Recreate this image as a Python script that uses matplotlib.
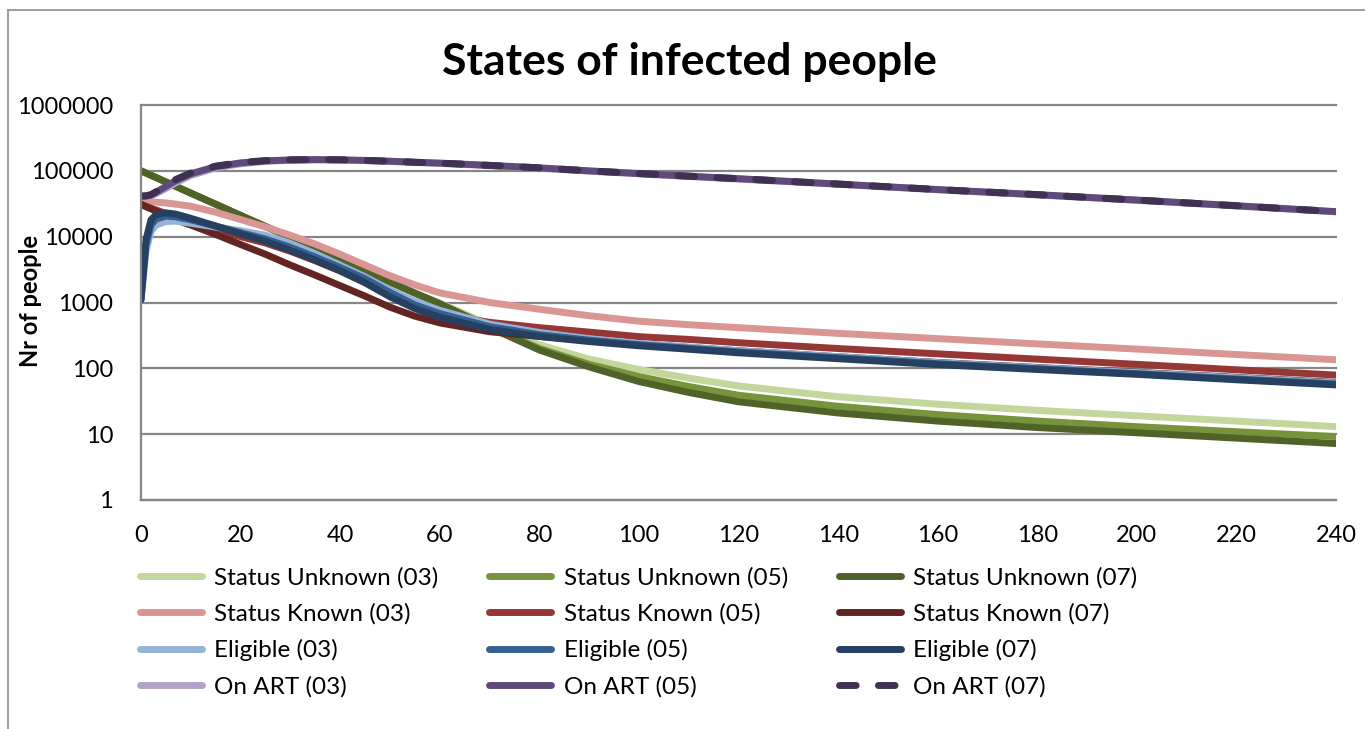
import numpy as np
import matplotlib
matplotlib.use("Agg")
import matplotlib.pyplot as plt
from matplotlib.lines import Line2D

plt.rcParams['font.family'] = ['Lato', 'DejaVu Sans']

# time points (months)
t = [0, 1, 2, 3, 5, 7, 10, 15, 20, 25, 30, 35, 40, 45, 50, 55, 60,
     70, 80, 90, 100, 110, 120, 140, 160, 180, 200, 220, 240]

# status unknown
su_03 = [100000, 92500, 85600, 79200, 67800, 58000, 45900, 31100, 21000, 14300, 9700, 6550, 4450, 3000, 2050, 1390, 980,
         460, 228, 138, 96, 71, 54, 37, 28.5, 23, 19, 15.8, 13]
su_05 = [100000, 92500, 85600, 79200, 67800, 58000, 45900, 31100, 21000, 14300, 9700, 6550, 4450, 3000, 2050, 1390, 960,
         425, 200, 115, 75, 53, 39, 26.5, 19.8, 15.8, 13, 10.9, 9.2]
su_07 = [100000, 92500, 85600, 79200, 67800, 58000, 45900, 31100, 21000, 14300, 9700, 6550, 4450, 3000, 2050, 1390, 955,
         417, 190, 105, 63, 43, 31, 21, 15.8, 12.6, 10.5, 8.7, 7.2]

# status known
sk_03 = [34000, 34000, 33800, 33400, 32500, 31200, 29000, 23500, 18200, 14000, 10500, 7700, 5400, 3700, 2550, 1850, 1400,
         1000, 790, 630, 520, 460, 415, 340, 283, 235, 196, 162, 135]
sk_05 = [31000, 29000, 27000, 25500, 22500, 20000, 17000, 13000, 10000, 8000, 6000, 4300, 3000, 2000, 1250, 870, 650,
         500, 415, 355, 303, 275, 245, 200, 166, 138, 115, 95, 79]
sk_07 = [31000, 28500, 26500, 24500, 21000, 18000, 15000, 10800, 7600, 5400, 3700, 2600, 1800, 1250, 850, 620, 490,
         360, 305, 265, 235, 208, 185, 150, 123, 103, 87, 73, 61]

# eligible
el_03 = [1100, 6000, 12000, 15000, 17000, 17200, 16000, 14000, 12300, 10500, 7900, 5500, 3700, 2450, 1550, 1050, 760,
         470, 350, 282, 238, 210, 185, 150, 122, 102, 86, 72, 60]
el_05 = [1100, 7500, 15000, 18500, 20500, 20000, 18000, 14500, 11500, 9200, 6900, 4900, 3400, 2300, 1420, 920, 680,
         430, 325, 268, 229, 202, 178, 145, 118, 99, 83, 69, 58]
el_07 = [1100, 9000, 18000, 21500, 23000, 22000, 19000, 14500, 11000, 8500, 6200, 4400, 3050, 2000, 1220, 810, 600,
         390, 305, 255, 220, 195, 172, 140, 114, 96, 81, 67, 56]

# on ART
art_03 = [40000, 40300, 41500, 45000, 54000, 66000, 85000, 111000, 128000, 139000, 145000, 147000, 146000, 143000, 139000,
          134000, 130000, 120000, 110000, 99000, 90000, 82000, 75000, 62500, 51500, 43000, 35700, 29300, 23800]
art_05 = [41000, 41300, 43000, 47000, 58000, 71000, 90000, 116000, 132000, 142000, 146500, 148000, 147000, 144000, 140000,
          135000, 131000, 121000, 111000, 100000, 91000, 83000, 76000, 63000, 52000, 43500, 36000, 29500, 24000]
art_07 = [41500, 41800, 43500, 48000, 60000, 74000, 93000, 118000, 134000, 143000, 147000, 148000, 147000, 144000, 140000,
          135000, 131000, 121000, 111000, 100000, 91000, 83000, 76000, 63000, 52000, 43500, 36000, 29500, 24000]

series = [
    ("Status Unknown (03)", su_03, "#C3D69B", "-"),
    ("Status Unknown (05)", su_05, "#77933C", "-"),
    ("Status Unknown (07)", su_07, "#4F6228", "-"),
    ("Status Known (03)", sk_03, "#D99694", "-"),
    ("Status Known (05)", sk_05, "#953735", "-"),
    ("Status Known (07)", sk_07, "#632523", "-"),
    ("Eligible (03)", el_03, "#95B3D7", "-"),
    ("Eligible (05)", el_05, "#376092", "-"),
    ("Eligible (07)", el_07, "#254061", "-"),
    ("On ART (03)", art_03, "#B3A2C7", "-"),
    ("On ART (05)", art_05, "#604A7B", "-"),
    ("On ART (07)", art_07, "#3F3151", "--"),
]

fig = plt.figure(figsize=(13.65, 7.29), dpi=100)
ax = fig.add_axes([141 / 1365, 1 - 500 / 729, (1336 - 141) / 1365, (500 - 105) / 729])

handles = {}
for label, vals, color, ls in series:
    if ls == "--":
        line, = ax.plot(t, vals, color=color, lw=5, linestyle=(0, (2.4, 3.2)),
                        dash_capstyle='round', solid_capstyle='round', label=label)
    else:
        line, = ax.plot(t, vals, color=color, lw=5, solid_capstyle='round',
                        solid_joinstyle='round', label=label)
    handles[label] = line

ax.set_yscale('log')
ax.set_ylim(1, 1000000)
ax.set_xlim(0, 240)
ax.set_xticks(range(0, 241, 20))
ax.set_yticks([1, 10, 100, 1000, 10000, 100000, 1000000])
ax.set_yticklabels(["1", "10", "100", "1000", "10000", "100000", "1000000"])
ax.yaxis.set_minor_locator(matplotlib.ticker.NullLocator())
ax.tick_params(axis='y', length=0, pad=20, labelsize=17)
ax.tick_params(axis='x', length=0, pad=18, labelsize=17)

grid_color = "#868686"
ax.grid(axis='y', color=grid_color, lw=1.6)
ax.set_axisbelow(True)
for gl in ax.yaxis.get_gridlines():
    gl.set_clip_on(False)
for side in ['top', 'right']:
    ax.spines[side].set_visible(False)
for side in ['left', 'bottom']:
    ax.spines[side].set_color(grid_color)
    ax.spines[side].set_linewidth(1.6)

fig.text(0.505, 1 - 62 / 729, "States of infected people", ha='center', va='center',
         fontsize=32, fontweight='bold')
fig.text(30 / 1365, 1 - 301 / 729, "Nr of people", rotation=90, ha='center', va='center',
         fontsize=17, fontweight='bold')

# legend: one column per scenario
order = ["Status Unknown (03)", "Status Known (03)", "Eligible (03)", "On ART (03)",
         "Status Unknown (05)", "Status Known (05)", "Eligible (05)", "On ART (05)",
         "Status Unknown (07)", "Status Known (07)", "Eligible (07)", "On ART (07)"]
fig.legend([handles[k] for k in order], order, ncol=3, loc='upper left',
           bbox_to_anchor=(140 / 1365, 1 - 567 / 729), frameon=False, fontsize=17.5,
           handlelength=2.55, handletextpad=0.5, columnspacing=2.1, labelspacing=0.6,
           borderpad=0, borderaxespad=0)

# outer chart border
fig.add_artist(Line2D([8 / 1365, 8 / 1365], [0, 1 - 9.5 / 729], color="#8C8C8C", lw=1.2))
fig.add_artist(Line2D([8 / 1365, 1], [1 - 9.5 / 729, 1 - 9.5 / 729], color="#8C8C8C", lw=1.2))

fig.savefig("out.png", dpi=100)
